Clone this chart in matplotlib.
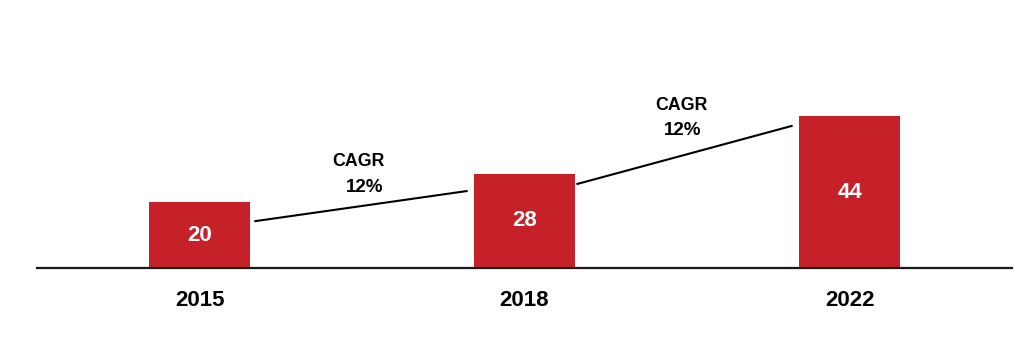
import matplotlib
matplotlib.use("Agg")
import matplotlib.pyplot as plt
from matplotlib import font_manager as fm

years = ["2015", "2018", "2022"]
values = [20, 28, 44]
cagr_labels = ["CAGR", "CAGR"]
cagr_values = ["12%", "12%"]

plt.rcParams['font.family'] = ['Liberation Sans', 'DejaVu Sans']


def find_font(name):
    for f in fm.fontManager.ttflist:
        base = f.fname.split("/")[-1]
        if base.startswith(name):
            return f.fname
    return None


bold_file = find_font("LiberationSans-Bold.")


def fp(size):
    if bold_file:
        return fm.FontProperties(fname=bold_file, size=size)
    return fm.FontProperties(family=['Liberation Sans', 'DejaVu Sans'],
                             weight='bold', size=size)


fig = plt.figure(figsize=(10.24, 3.56), dpi=100)
ax = fig.add_axes([37/1024, 88/356, 975/1024, 268/356])

x = list(range(len(years)))
ymin = 1.6
ax.bar(x, values, width=0.308, color="#C62129", zorder=2)
ax.set_xlim(-0.5, 2.5)
ax.set_ylim(ymin, 76.5)

for xi, v in zip(x, values):
    ax.text(xi, (ymin + v) / 2, str(v), ha="center", va="center",
            color="white", fontproperties=fp(16), zorder=3)

# CAGR connector lines
ax.plot([0.172, 0.822], [14.7, 23.1], color="black", lw=1.5, zorder=3)
ax.plot([1.163, 1.822], [25.1, 41.3], color="black", lw=1.5, zorder=3)

cagr_pos = [(0.489, 31.5, 0.508, 24.0), (1.483, 47.1, 1.486, 39.9)]
for (lx, ly, vx, vy), lab, val in zip(cagr_pos, cagr_labels, cagr_values):
    ax.text(lx, ly, lab, ha="center", va="center", color="black",
            fontproperties=fp(12.8))
    ax.text(vx, vy, val, ha="center", va="center", color="black",
            fontproperties=fp(13.5))

ax.set_xticks(x)
ax.set_xticklabels(years)
for t in ax.get_xticklabels():
    t.set_fontproperties(fp(16))
ax.tick_params(axis="x", length=0, pad=16)
ax.set_yticks([])
for s in ["top", "left", "right"]:
    ax.spines[s].set_visible(False)
ax.spines["bottom"].set_color("#1a1a1a")
ax.spines["bottom"].set_linewidth(1.6)
ax.spines["bottom"].set_zorder(4)

fig.savefig("out.png", dpi=100)
